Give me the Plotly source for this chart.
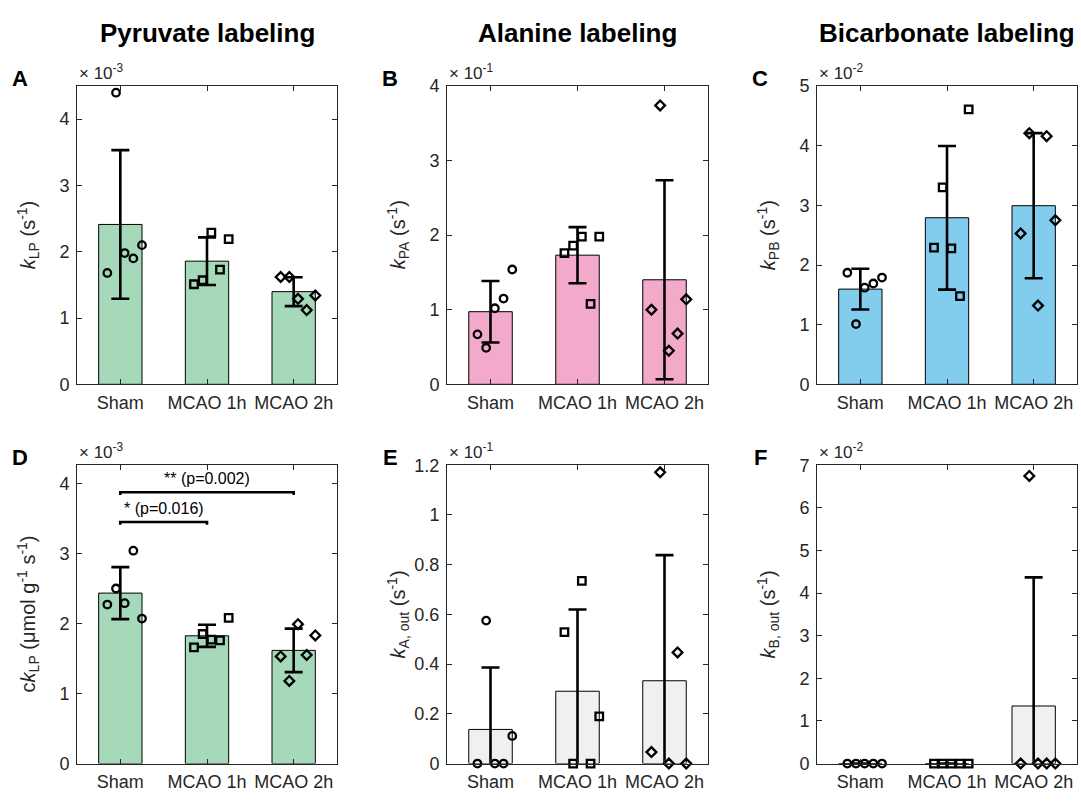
import numpy as np
import plotly.graph_objects as go

# ---- data (values shown in axis units, i.e. already scaled by the exponent) ----
groups = ["Sham", "MCAO 1h", "MCAO 2h"]

kLP_sham = [1.68, 4.40, 1.98, 1.90, 2.10]
kLP_1h = [1.51, 1.57, 2.29, 1.73, 2.19]
kLP_2h = [1.62, 1.62, 1.29, 1.12, 1.34]

kPA_sham = [0.67, 0.49, 1.02, 1.15, 1.54]
kPA_1h = [1.76, 1.86, 1.98, 1.08, 1.98]
kPA_2h = [1.00, 3.74, 0.45, 0.68, 1.14]

kPB_sham = [1.87, 1.01, 1.62, 1.69, 1.79]
kPB_1h = [2.29, 3.30, 2.28, 1.48, 4.61]
kPB_2h = [2.53, 4.21, 1.32, 4.16, 2.75]

ckLP_sham = [2.27, 2.50, 2.29, 3.04, 2.07]
ckLP_1h = [1.66, 1.85, 1.77, 1.76, 2.08]
ckLP_2h = [1.53, 1.18, 1.99, 1.55, 1.83]

kAout_sham = [0.0, 0.575, 0.0, 0.0, 0.111]
kAout_1h = [0.529, 0.0, 0.735, 0.0, 0.19]
kAout_2h = [0.046, 1.172, 0.0, 0.447, 0.0]

kBout_sham = [0.0, 0.0, 0.0, 0.0, 0.0]
kBout_1h = [0.0, 0.0, 0.0, 0.0, 0.0]
kBout_2h = [0.0, 6.75, 0.0, 0.0, 0.0]

# per-animal horizontal spread of the individual points (category units)
point_spread = [-0.15, -0.05, 0.05, 0.15, 0.25]
group_symbols = ["circle-open", "square-open", "diamond-open"]

# significance brackets for panel D: (from group, to group, height, label)
sig_from = [1, 1]
sig_to = [2, 3]
sig_level = [3.45, 3.875]
sig_text = ["* (p=0.016)", "** (p=0.002)"]

GREEN = "#a6d9b9"
PINK = "#f3a9c9"
BLUE = "#82cdee"
GREY = "#f0f0f0"
AX = "#262626"
FONT = "Liberation Sans, Arial, Helvetica, sans-serif"

panels = [
    dict(letter="A", data=[kLP_sham, kLP_1h, kLP_2h], color=GREEN, ymax=4.5,
         ticks=[0, 1, 2, 3, 4], exp="-3",
         ylabel="<i>k</i><sub>LP</sub> (s<sup>-1</sup>)"),
    dict(letter="B", data=[kPA_sham, kPA_1h, kPA_2h], color=PINK, ymax=4,
         ticks=[0, 1, 2, 3, 4], exp="-1",
         ylabel="<i>k</i><sub>PA</sub> (s<sup>-1</sup>)"),
    dict(letter="C", data=[kPB_sham, kPB_1h, kPB_2h], color=BLUE, ymax=5,
         ticks=[0, 1, 2, 3, 4, 5], exp="-2",
         ylabel="<i>k</i><sub>PB</sub> (s<sup>-1</sup>)"),
    dict(letter="D", data=[ckLP_sham, ckLP_1h, ckLP_2h], color=GREEN, ymax=4.26,
         ticks=[0, 1, 2, 3, 4], exp="-3",
         ylabel="c<i>k</i><sub>LP</sub> (μmol g<sup>-1</sup> s<sup>-1</sup>)"),
    dict(letter="E", data=[kAout_sham, kAout_1h, kAout_2h], color=GREY, ymax=1.2,
         ticks=[0, 0.2, 0.4, 0.6, 0.8, 1, 1.2], exp="-1",
         ylabel="<i>k</i><sub>A, out</sub> (s<sup>-1</sup>)"),
    dict(letter="F", data=[kBout_sham, kBout_1h, kBout_2h], color=GREY, ymax=7,
         ticks=[0, 1, 2, 3, 4, 5, 6, 7], exp="-2",
         ylabel="<i>k</i><sub>B, out</sub> (s<sup>-1</sup>)"),
]

col_titles = ["Pyruvate labeling", "Alanine labeling", "Bicarbonate labeling"]

# figure size; the page adds a few pixels of its own below the plot
W, H = 1081, 794
col_px = [(77, 337), (447, 708), (817, 1077)]
row_px = [(78, 384), (467, 773)]

fig = go.Figure()
annotations = []
xcat = np.array([1, 2, 3])

for i, p in enumerate(panels):
    r, c = divmod(i, 3)
    n = i + 1
    xa = "x" if n == 1 else f"x{n}"
    ya = "y" if n == 1 else f"y{n}"
    x0, x1 = col_px[c]
    y0, y1 = row_px[r]

    means = [float(np.mean(g)) for g in p["data"]]
    sds = [float(np.std(g, ddof=1)) for g in p["data"]]

    fig.add_trace(go.Bar(
        x=xcat, y=means, width=0.5, xaxis=xa, yaxis=ya,
        marker=dict(color=p["color"], line=dict(color="#000000", width=1)),
        error_y=dict(type="data", array=sds, visible=True, color="#000000",
                     thickness=2.6, width=9),
        showlegend=False, hoverinfo="skip",
    ))
    for g, vals in enumerate(p["data"]):
        fig.add_trace(go.Scatter(
            x=xcat[g] + np.array(point_spread), y=vals, mode="markers",
            xaxis=xa, yaxis=ya, cliponaxis=False,
            marker=dict(symbol=group_symbols[g], size=7.5, color="#000000",
                        line=dict(color="#000000", width=2.3)),
            showlegend=False, hoverinfo="skip",
        ))

    xkey = "xaxis" if n == 1 else f"xaxis{n}"
    ykey = "yaxis" if n == 1 else f"yaxis{n}"
    fig.layout[xkey] = dict(
        domain=[x0 / W, x1 / W], anchor=ya, range=[0.5, 3.5],
        tickmode="array", tickvals=[1, 2, 3], ticktext=groups,
        ticks="inside", ticklen=5, tickcolor=AX, tickwidth=1,
        showline=True, linecolor=AX, linewidth=1, mirror="ticks",
        showgrid=False, zeroline=False, fixedrange=True,
        tickfont=dict(family=FONT, size=18, color=AX), ticklabelstandoff=2,
    )
    fig.layout[ykey] = dict(
        domain=[1 - y1 / H, 1 - y0 / H], anchor=xa, range=[0, p["ymax"]],
        tickmode="array", tickvals=p["ticks"],
        ticks="inside", ticklen=5, tickcolor=AX, tickwidth=1,
        showline=True, linecolor=AX, linewidth=1, mirror="ticks",
        showgrid=False, zeroline=False, fixedrange=True,
        tickfont=dict(family=FONT, size=18, color=AX), ticklabelstandoff=3,
    )

    # exponent label above the y axis
    annotations.append(dict(
        x=x0 / W, y=1 - (y0 - 1) / H, xref="paper", yref="paper",
        xanchor="left", yanchor="bottom", showarrow=False,
        text=f"× 10<sup>{p['exp']}</sup>",
        font=dict(family=FONT, size=17, color=AX),
    ))
    # y axis title
    annotations.append(dict(
        x=(x0 - 49) / W, y=1 - ((y0 + y1) / 2) / H, xref="paper", yref="paper",
        xanchor="center", yanchor="middle", showarrow=False, textangle=-90,
        text=p["ylabel"], font=dict(family=FONT, size=20, color=AX),
    ))
    # panel letter
    annotations.append(dict(
        x=(x0 - 57) / W, y=1 - (y0 - 8) / H, xref="paper", yref="paper",
        xanchor="center", yanchor="middle", showarrow=False,
        text=f"<b>{p['letter']}</b>",
        font=dict(family=FONT, size=22, color="#000000"),
    ))

# column titles
for c, t in enumerate(col_titles):
    x0, x1 = col_px[c]
    annotations.append(dict(
        x=(x0 + x1) / 2 / W, y=1 - 24 / H, xref="paper", yref="paper",
        xanchor="center", yanchor="middle", showarrow=False,
        text=f"<b>{t}</b>", font=dict(family=FONT, size=26, color="#000000"),
    ))

# significance brackets in panel D
for a, b, lvl, txt in zip(sig_from, sig_to, sig_level, sig_text):
    drop = 0.04
    fig.add_trace(go.Scatter(
        x=[a, a, b, b], y=[lvl - drop, lvl, lvl, lvl - drop], mode="lines",
        xaxis="x4", yaxis="y4", line=dict(color="#000000", width=2.6),
        showlegend=False, hoverinfo="skip", cliponaxis=False,
    ))
    annotations.append(dict(
        x=(a + b) / 2, y=lvl + 0.04, xref="x4", yref="y4",
        xanchor="center", yanchor="bottom", showarrow=False, text=txt,
        font=dict(family=FONT, size=16, color="#000000"),
    ))

fig.update_layout(
    width=W, height=H, margin=dict(l=0, r=0, t=0, b=0),
    paper_bgcolor="#ffffff", plot_bgcolor="#ffffff",
    annotations=annotations, barmode="overlay",
    font=dict(family=FONT, color=AX),
)

fig.write_html("out.html")
